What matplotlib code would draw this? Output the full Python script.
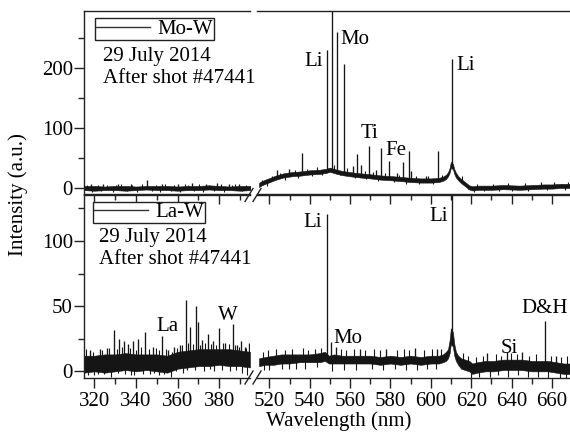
import numpy as np
import matplotlib
matplotlib.use("Agg")
import matplotlib.pyplot as plt
from matplotlib.lines import Line2D
from matplotlib.ticker import MultipleLocator

plt.rcParams["font.family"] = ["Liberation Serif", "DejaVu Serif"]

FS = 15
INK = "#151515"

# ---------------- Mo-W spectrum ----------------
# background band (lower / upper edge of the noisy trace), 315-395 nm window
mow_l_wl = [315, 320, 325, 330, 335, 340, 345, 350, 355, 360, 365, 370, 375, 380, 385, 390, 395]
mow_l_lo = [-4, -5, -4, -4, -5, -4, -3, -4, -4, -5, -4, -4, -3, -4, -4, -5, -4]
mow_l_hi = [3, 3, 2, 3, 3, 2, 3, 3, 3, 2, 3, 3, 4, 3, 2, 3, 3]
mow_l_spk_wl = [318.5, 324.0, 331.2, 337.6, 345.2, 352.4, 360.1, 366.8, 373.5, 379.0, 384.6, 389.3]
mow_l_spk_y = [7, 6, 7, 6, 13, 7, 6, 8, 7, 8, 7, 6]
mow_l_tex_wl = [316.5, 319, 321.7, 323.4, 326, 328.8, 330.5, 333, 335.9, 338.2, 340.6, 343,
                347.5, 349.8, 351.3, 354, 356.7, 358.4, 361, 363.6, 365.2, 368.1, 370.4,
                372.2, 375, 377.3, 380.8, 382.5, 386, 387.7, 391, 393]
mow_l_tex_y = [5, -7, 5, -6, 5, -7, 5, 6, -6, 5, -7, 6, -6, 5, -7, 6, -6, 5, -7, 6, 5, -6,
               6, -7, 5, -6, 6, -7, 5, 6, -6, 5]

# 514-669 nm window
mow_r_wl = [514.9, 516, 518, 520, 523, 527, 531, 535, 540, 545, 548, 550, 553, 556, 560, 565,
            570, 575, 580, 585, 590, 595, 600, 604, 606, 607.5, 608.5, 609.3, 609.9,
            610.9, 611.6, 612.4, 613.5, 614.5, 616, 617.5, 619, 620.5, 624, 630, 636,
            644, 650, 656, 660, 664, 669]
mow_r_lo = [1, 3.5, 6.5, 9, 13, 17, 19, 20, 22, 23, 24.5, 26.5, 23.5, 21, 19, 17,
            15.5, 13.5, 12.5, 11, 9.5, 8.5, 8.5, 9.5, 11.5, 14.5, 19, 25, 33,
            31, 23, 17, 12.5, 9, 5, 1, -3, -4.5, -3.5, -3.5, -2.5,
            -3.5, -2.5, -1.5, -1.5, -0.5, -0.5]
mow_r_hi = [8, 10.5, 13.5, 16, 20, 24, 26, 27, 29, 30, 31.5, 33.5, 30.5, 28, 26, 24,
            22.5, 20.5, 19.5, 18, 16.5, 15.5, 15.5, 16.5, 18.5, 21.5, 26, 33, 43,
            40, 31, 25, 19.5, 16, 12, 8, 4, 2.5, 3.5, 3.5, 4.5,
            3.5, 4.5, 5.5, 5.5, 6.5, 6.5]
mow_r_spk_wl = [524.0, 529.5, 536.2, 548.4, 550.9, 553.7, 557.1, 561.3, 563.4, 565.2, 569.2,
                572.7, 575.3, 579.4, 583.0, 586.2, 589.0, 590.3, 597.5, 603.4, 610.4]
mow_r_spk_y = [30, 31, 58, 230, 310, 259, 206, 36, 57, 38, 70,
               30, 67, 45, 25, 43, 62, 28, 20, 61, 214]
mow_r_tex_wl = [516.5, 519, 521.5, 525.5, 527.8, 532.5, 534, 538.5, 541.2, 543.5, 546,
                551.8, 555.2, 558.5, 562.5, 567.2, 568, 571.5, 574, 577.5, 581.5, 584,
                587.5, 592.5, 594, 598.5, 601, 605.5, 615.3, 618.3, 621.5, 623, 626.5,
                631, 633.5, 638.2, 640, 646.5, 648, 654.5, 657.5, 661, 666.5, 668]
mow_r_tex_y = [13, 3, 19, 25, 13, 30, 17, 32, 19, 34, 21,
               38, 21, 33, 17, 28, 14, 26, 11, 24, 9, 22,
               7, 20, 6, 20, 6, 22, 19, -2, -7, 7, -6,
               7, -6, 8, -6, 8, -5, 9, -4, 10, -3, 10]

# ---------------- La-W spectrum ----------------
law_l_wl = [315, 320, 325, 330, 335, 340, 345, 350, 355, 360, 365, 370, 375, 380, 385, 390, 394.8]
law_l_lo = [-1, 0, -1, 0, 1, 0, 1, 0, -1, 2, 3, 4, 4, 5, 4, 4, 3]
law_l_hi = [12, 12, 13, 13, 14, 13, 13, 13, 12, 15, 16, 17, 17, 17, 17, 16, 15]
law_l_spk_wl = [318.0, 322.5, 326.0, 329.3, 332.0, 334.0, 336.0, 338.5, 341.0, 344.5, 348.0,
                352.5, 355.6, 358.5, 361.0, 363.8, 366.0, 368.9, 369.6, 371.8, 374.7,
                377.2, 380.0, 383.0, 386.7, 388.5, 390.7, 392.6, 394.2]
law_l_spk_y = [16, 17, 18, 32, 25, 23, 21, 23, 25, 30, 19,
               27, 16, 19, 20, 55, 34, 50, 38, 24, 29,
               23, 33, 22, 36, 20, 23, 19, 22]
law_l_tex_wl = [316.2, 319.2, 323.8, 327.2, 330.8, 333.2, 337.2, 339.8, 342.6, 346.3, 349.5,
                351.2, 354.2, 357.3, 359.7, 362.3, 365.1, 367.4, 370.8, 373.3, 376.1,
                378.6, 381.7, 384.6, 387.8, 389.6, 393.1,
                317.0, 319.8, 321.5, 324.8, 328.0, 331.4, 334.5, 337.8, 339.0, 343.2,
                346.5, 348.8, 351.0, 353.5, 357.0, 359.2, 362.5, 364.4, 368.2, 372.6,
                375.8, 377.5, 381.2, 385.4, 388.2, 391.0, 393.5]
law_l_tex_y = [17, 15, 16, 18, 17, 19, 18, 16, 19, 17, 18,
               16, 17, 15, 18, 20, 22, 21, 20, 22, 21,
               20, 22, 21, 20, 19, 18,
               -3, -3, -2, -2, -4, -1, -2, -3, -3, -2,
               -2, -1, -3, -2, -4, 0, -1, 1, 1, 0,
               2, 0, 1, 0, 1, -1, -3]

law_r_wl = [514.9, 518, 522, 526, 530, 535, 540, 545, 547.5, 549.5, 552, 556, 560, 565,
            570, 575, 580, 585, 590, 595, 600, 604, 606, 607.5, 608.5, 609.3, 609.9,
            610.9, 611.6, 612.4, 613.5, 615, 617, 619, 620.5, 623, 627, 631, 636,
            640, 645, 650, 654, 658, 662, 666, 669]
law_r_lo = [4, 5, 5, 6, 6, 7, 7, 7, 8, 6, 6, 6, 6, 6,
            6, 5, 6, 5, 6, 5, 6, 6, 7, 8, 10, 14, 21,
            19, 12, 8, 5, 2, 1, 0, -2, -1, 0, 0, 1,
            1, 1, 0, 0, 0, -1, -2, -2]
law_r_hi = [10, 11, 12, 13, 13, 13, 13, 14, 15, 12, 13, 12, 12, 12,
            12, 11, 12, 11, 12, 11, 12, 12, 13, 15, 17, 24, 33,
            30, 21, 15, 12, 10, 9, 8, 6, 7, 8, 8, 9,
            9, 9, 8, 8, 8, 7, 6, 6]
law_r_spk_wl = [548.4, 550.3, 553.0, 565.0, 578.0, 592.0, 603.0, 610.5, 628.0, 637.5, 645.0,
                656.6, 662.0]
law_r_spk_y = [120.6, 22.7, 19, 17, 17, 18, 17, 170, 14, 15, 15, 38.6, 12]
law_r_tex_wl = [516.8, 519.5, 523.2, 527.7, 531.4, 536.5, 539.2, 542.8, 545.6, 555.4, 558.2,
                561.7, 567.4, 571.8, 574.6, 583.2, 586.5, 589.4, 596.5, 600.8, 605.2,
                615.8, 618.2, 622.5, 625.6, 632.4, 634.8, 639.5, 642.7, 648.6, 652.3,
                659.5, 664.6, 667.5,
                517.5, 520.0, 526.4, 529.5, 533.0, 537.8, 543.5, 551.0, 557.0, 563.0,
                571.0, 576.5, 582.0, 587.8, 593.2, 598.0, 602.3, 620.0, 624.0, 629.3,
                633.0, 638.0, 643.0, 648.0, 653.0, 658.0, 663.8, 667.0]
law_r_tex_y = [15, 16, 17, 16, 17, 18, 16, 17, 18, 17, 16,
               17, 16, 17, 16, 16, 17, 16, 16, 17, 17,
               14, 12, 11, 12, 13, 12, 14, 13, 12, 13,
               12, 11, 12,
               1, 1, 2, 2, 2, 2, 3, 0, 1, 1,
               2, 1, 2, 1, 1, 2, 2, -5, -4, -4,
               -3, -4, -3, -4, -4, -5, -5, -5]

# ---------------- figure ----------------
W, H = 570, 434
fig = plt.figure(figsize=(W / 100, H / 100), dpi=100)


def add_axes_px(x0, y0, x1, y1):
    return fig.add_axes([x0 / W, 1 - y1 / H, (x1 - x0) / W, (y1 - y0) / H])


X_L0, X_L1, X_R0, X_R1 = 84, 250, 257, 570
Y_T0, Y_MID, Y_B1 = 11, 194.5, 378

ax_tl = add_axes_px(X_L0, Y_T0, X_L1, Y_MID)
ax_tr = add_axes_px(X_R0, Y_T0, X_R1, Y_MID)
ax_bl = add_axes_px(X_L0, Y_MID, X_L1, Y_B1)
ax_br = add_axes_px(X_R0, Y_MID, X_R1, Y_B1)

XLIM_L = (315, 394.8)
XLIM_R = (513.9, 668.9)
YLIM_T = (-11.3, 294.5)
YLIM_B = (-5.1, 135.6)


def draw_spectrum(ax, wl, lo, hi, spk_wl, spk_y, tex_wl, tex_y):
    wl = np.asarray(wl, float)
    lo = np.asarray(lo, float)
    hi = np.asarray(hi, float)
    ax.fill_between(wl, lo, hi, color=INK, lw=0.4, edgecolor=INK)
    mid = (lo + hi) / 2
    # small noise excursions around the band
    base = np.interp(tex_wl, wl, mid)
    ax.vlines(tex_wl, np.minimum(base, tex_y), np.maximum(base, tex_y), color=INK, lw=0.8)
    # emission lines
    base = np.interp(spk_wl, wl, mid)
    ax.vlines(spk_wl, base, spk_y, color=INK, lw=0.95)


draw_spectrum(ax_tl, mow_l_wl, mow_l_lo, mow_l_hi, mow_l_spk_wl, mow_l_spk_y,
              mow_l_tex_wl, mow_l_tex_y)
draw_spectrum(ax_tr, mow_r_wl, mow_r_lo, mow_r_hi, mow_r_spk_wl, mow_r_spk_y,
              mow_r_tex_wl, mow_r_tex_y)
draw_spectrum(ax_bl, law_l_wl, law_l_lo, law_l_hi, law_l_spk_wl, law_l_spk_y,
              law_l_tex_wl, law_l_tex_y)
draw_spectrum(ax_br, law_r_wl, law_r_lo, law_r_hi, law_r_spk_wl, law_r_spk_y,
              law_r_tex_wl, law_r_tex_y)

for ax, xl, yl in [(ax_tl, XLIM_L, YLIM_T), (ax_tr, XLIM_R, YLIM_T),
                   (ax_bl, XLIM_L, YLIM_B), (ax_br, XLIM_R, YLIM_B)]:
    ax.set_xlim(*xl)
    ax.set_ylim(*yl)
    ax.set_facecolor("none")
    for s in ax.spines.values():
        s.set_linewidth(1.0)
        s.set_color("#222222")
    ax.spines["right"].set_visible(False)
    ax.xaxis.set_major_locator(MultipleLocator(20))
    ax.xaxis.set_minor_locator(MultipleLocator(10))
    ax.tick_params(axis="x", which="major", direction="out", length=7, width=1.0,
                   labelsize=FS, pad=3, color="#222222")
    ax.tick_params(axis="x", which="minor", direction="out", length=4, width=1.0,
                   color="#222222")

for ax in (ax_tr, ax_br):
    ax.spines["left"].set_visible(False)
    ax.tick_params(axis="y", which="both", left=False, labelleft=False)

for ax, major, minor in [(ax_tl, 100, 50), (ax_bl, 50, 25)]:
    ax.yaxis.set_major_locator(MultipleLocator(major))
    ax.yaxis.set_minor_locator(MultipleLocator(minor))
    ax.tick_params(axis="y", which="major", direction="out", length=7, width=1.0,
                   labelsize=FS, pad=1, color="#222222")
    ax.tick_params(axis="y", which="minor", direction="out", length=4, width=1.0,
                   color="#222222")

for ax in (ax_tl, ax_tr):
    ax.tick_params(axis="x", which="both", labelbottom=False)

# axis break marks on the bottom spines
for yb in (Y_MID + 1, Y_B1):
    for xb in (249, 257):
        fig.add_artist(Line2D([(xb - 4) / W, (xb + 4) / W],
                              [1 - (yb + 6) / H, 1 - (yb - 7) / H],
                              color="#222222", lw=1.0, transform=fig.transFigure))

# legends and run info
for ax, lab, anchor, tx, ty in [(ax_tl, "Mo-W", (0.066, 0.960), 103, 57),
                                (ax_bl, "La-W", (0.052, 0.961), 99, 238)]:
    leg = ax.legend(handles=[Line2D([], [], color="#333333", lw=1.0)], labels=[lab],
                    loc="upper left", bbox_to_anchor=anchor, frameon=True,
                    fancybox=False, edgecolor="#222222", framealpha=1,
                    borderpad=0.05, handlelength=2.6, handletextpad=0.35,
                    borderaxespad=0, prop={"size": FS})
    leg.get_frame().set_linewidth(1.0)
    fig.text(tx / W, 1 - ty / H, "29 July 2014", fontsize=FS, ha="left", va="center")
    fig.text(tx / W, 1 - (ty + 22) / H, "After shot #47441", fontsize=FS,
             ha="left", va="center")

# line identifications
ax_tr.text(546.4, 210, "Li", fontsize=FS, ha="right", va="center")
ax_tr.text(555.0, 247, "Mo", fontsize=FS, ha="left", va="center")
ax_tr.text(612.4, 204.5, "Li", fontsize=FS, ha="left", va="center")
ax_tr.text(569.8, 90.7, "Ti", fontsize=FS, ha="center", va="center")
ax_tr.text(582.7, 62.8, "Fe", fontsize=FS, ha="center", va="center")

ax_br.text(546.2, 114, "Li", fontsize=FS, ha="right", va="center")
ax_br.text(551.7, 25.3, "Mo", fontsize=FS, ha="left", va="center")
ax_br.text(608.6, 119, "Li", fontsize=FS, ha="right", va="center")
ax_br.text(638.7, 17.6, "Si", fontsize=FS, ha="center", va="center")
ax_br.text(656.1, 48.3, "D&H", fontsize=FS, ha="center", va="center")

ax_bl.text(355.2, 34.2, "La", fontsize=FS, ha="center", va="center")
ax_bl.text(384.1, 43.2, "W", fontsize=FS, ha="center", va="center")

fig.text(18 / W, 1 - 195 / H, "Intensity (a.u.)", fontsize=FS, rotation=90,
         ha="center", va="center")
fig.text(339 / W, 1 - 421 / H, "Wavelength (nm)", fontsize=FS, ha="center", va="center")

fig.savefig("out.png", dpi=100)
